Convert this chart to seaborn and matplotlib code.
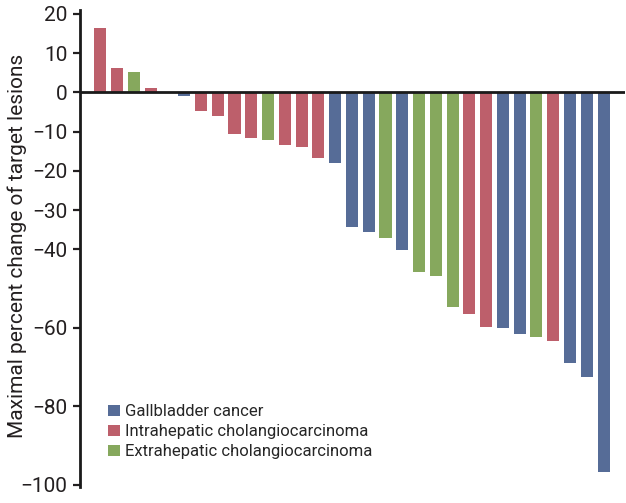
"""
Waterfall plot: maximal percent change of target lesions by tumour type
"""

import matplotlib
matplotlib.use('Agg')
import matplotlib.pyplot as plt
from matplotlib.patches import Patch
import seaborn as sns
import pandas as pd

# ---- data ----
groups = ['Gallbladder cancer', 'Intrahepatic cholangiocarcinoma', 'Extrahepatic cholangiocarcinoma']
colors = ['#566C97', '#BD5F6B', '#86A85D']

patient_type = ['I', 'I', 'E', 'I', 'G', 'G', 'I', 'I', 'I', 'I', 'E', 'I', 'I', 'I', 'G',
                'G', 'G', 'E', 'G', 'E', 'E', 'E', 'I', 'I', 'G', 'G', 'E', 'I', 'G', 'G', 'G']
max_change = [16.5, 6.3, 5.1, 1.2, 0.0, -1.0, -4.8, -6.1, -10.7, -11.5, -12.2, -13.3, -14.0, -16.6, -18.1,
              -34.2, -35.5, -37.2, -40.3, -45.7, -46.7, -54.8, -56.4, -59.7, -60.0, -61.7, -62.5, -63.5,
              -69.1, -72.7, -96.9]
y_ticks = [20, 10, 0, -10, -20, -30, -40, -60, -80, -100]

type_names = {'G': groups[0], 'I': groups[1], 'E': groups[2]}
df = pd.DataFrame({
    'patient': range(len(max_change)),
    'change': max_change,
    'type': [type_names[t] for t in patient_type],
})

sns.set_style('white')
plt.rcParams['font.family'] = ['Roboto', 'DejaVu Sans']

fig = plt.figure(figsize=(6.26, 5.03), dpi=100)
ax = fig.add_axes([0.128, 0.032, 0.871, 0.948])

sns.barplot(data=df, x='patient', y='change', hue='type', hue_order=groups,
            palette=dict(zip(groups, colors)), dodge=False, width=0.72,
            linewidth=0, saturation=1, legend=False, ax=ax)

# zero line across the whole plot
ax.axhline(0, color='#1a1a1a', lw=2, zorder=5)

ax.set_xlim(-1.2, len(max_change) - 1 + 1.3)
ax.set_ylim(-100.6, 21)
ax.set_yticks(y_ticks)
ax.set_yticklabels(['\u2212' + str(abs(v)) if v < 0 else str(v) for v in y_ticks])
ax.tick_params(axis='y', length=5, width=1.6, pad=4, labelsize=15, colors='#231F20', left=True)
ax.set_xticks([])
ax.set_xlabel('')
ax.set_ylabel('Maximal percent change of target lesions', fontsize=15, color='#231F20')
ax.yaxis.set_label_coords(-0.098, 0.505)

for side in ['top', 'right', 'bottom']:
    ax.spines[side].set_visible(False)
ax.spines['left'].set_color('#1a1a1a')
ax.spines['left'].set_linewidth(2)

handles = [Patch(facecolor=c, edgecolor='none') for c in colors]
ax.legend(handles, groups, loc='upper left', bbox_to_anchor=(0.051, 0.173), frameon=False,
          fontsize=12, handlelength=0.7, handleheight=0.7, handletextpad=0.3,
          labelspacing=0.3, borderaxespad=0, borderpad=0)

fig.savefig('out.png', dpi=100)
plt.close(fig)
